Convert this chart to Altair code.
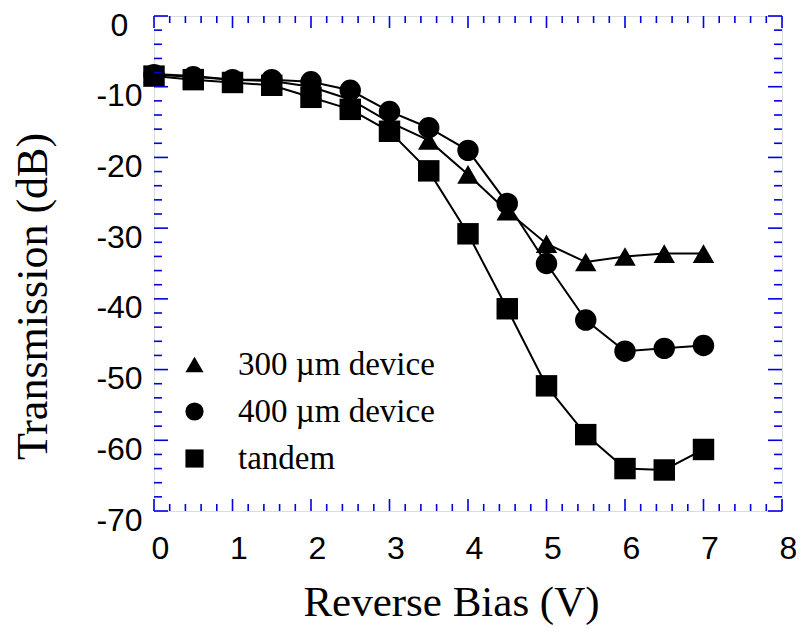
import altair as alt
import pandas as pd

# ---- data ----
bias = [0, 0.5, 1, 1.5, 2, 2.5, 3, 3.5, 4, 4.5, 5, 5.5, 6, 6.5, 7]
dev300 = [-8.2, -8.5, -9.0, -9.2, -10.0, -11.8, -15.0, -17.6, -22.4, -27.6, -32.2, -34.8, -34.0, -33.6, -33.6]
dev400 = [-8.3, -8.6, -9.0, -9.0, -9.3, -10.5, -13.5, -15.8, -19.0, -26.5, -35.0, -43.0, -47.4, -47.0, -46.6]
tandem = [-8.5, -9.0, -9.4, -9.8, -11.5, -13.2, -16.3, -21.9, -30.8, -41.4, -52.3, -59.2, -64.0, -64.2, -61.3]

series_names = ["300 \u00b5m device", "400 \u00b5m device", "tandem"]
series_shapes = ["triangle-up", "circle", "square"]

x_major = [0, 1, 2, 3, 4, 5, 6, 7, 8]
x_minor = [round(i * 0.2, 1) for i in range(41) if i % 5]
y_major = [0, -10, -20, -30, -40, -50, -60, -70]
y_minor = [-v for v in range(0, 71, 2) if v % 10]

W, H = 628, 495
BLUE = "#0000e0"

rows = []
for name, vals in zip(series_names, [dev300, dev400, tandem]):
    for b, v in zip(bias, vals):
        rows.append({"bias": b, "dB": v, "series": name})
df = pd.DataFrame(rows)

xs = alt.Scale(domain=[0, 8], nice=False, zero=False)
ys = alt.Scale(domain=[-70, 0], nice=False, zero=False)

x_axis = alt.Axis(
    values=x_major, labelExpr="datum.value + ''", title="Reverse Bias (V)", grid=False,
    ticks=False, tickSize=0, domain=False,
    labelFont="Liberation Sans", labelFontSize=32, labelColor="black",
    labelPadding=22, labelOffset=6, labelFlush=False,
    titleFont="Liberation Serif", titleFontSize=43, titleFontWeight="normal", titleColor="black",
    titleX=297, titleY=91, titleBaseline="middle", titleAlign="center",
)
y_axis = alt.Axis(
    values=y_major, labelExpr="datum.value + ''", title="Transmission (dB)", grid=False,
    ticks=False, tickSize=0, domain=False,
    labelFont="Liberation Sans", labelFontSize=32, labelColor="black",
    labelPadding=35, labelOffset=9, labelFlush=False, labelAlign="center",
    titleFont="Liberation Serif", titleFontSize=44, titleFontWeight="normal", titleColor="black",
    titleX=-121, titleY=280, titleBaseline="middle", titleAlign="center", titleAngle=-90,
)

lines = alt.Chart(df).mark_line(color="black", strokeWidth=2).encode(
    x=alt.X("bias:Q", scale=xs, axis=x_axis),
    y=alt.Y("dB:Q", scale=ys, axis=y_axis),
    detail="series:N",
)

points = alt.Chart(df).mark_point(filled=True, opacity=1, color="black", size=460).encode(
    x=alt.X("bias:Q"),
    y=alt.Y("dB:Q"),
    shape=alt.Shape(
        "series:N",
        scale=alt.Scale(domain=series_names, range=series_shapes),
        legend=alt.Legend(
            title=None, orient="none", legendX=24, legendY=332, symbolSize=330,
            symbolFillColor="black", symbolStrokeColor="black",
            labelFont="Liberation Serif", labelFontSize=33, labelColor="black",
            labelOffset=27, rowPadding=13, labelLimit=0,
        ),
    ),
)


def xticks(vals, length, top):
    d = pd.DataFrame({"bias": vals})
    if top:
        enc = dict(y=alt.value(0), y2=alt.value(length))
    else:
        enc = dict(y=alt.value(H), y2=alt.value(H - length))
    return alt.Chart(d).mark_rule(color=BLUE, strokeWidth=1.6).encode(
        x=alt.X("bias:Q"), **enc
    )


def yticks(vals, length, right):
    d = pd.DataFrame({"dB": vals})
    if right:
        enc = dict(x=alt.value(W), x2=alt.value(W - length))
    else:
        enc = dict(x=alt.value(0), x2=alt.value(length))
    return alt.Chart(d).mark_rule(color=BLUE, strokeWidth=1.6).encode(
        y=alt.Y("dB:Q"), **enc
    )


tick_layers = [
    xticks(x_major, 12, False), xticks(x_minor, 7, False),
    xticks(x_major, 12, True), xticks(x_minor, 7, True),
    yticks(y_major, 14, False), yticks(y_minor, 8, False),
    yticks(y_major, 14, True), yticks(y_minor, 8, True),
]

chart = alt.layer(lines, points, *tick_layers).properties(
    width=W, height=H,
    autosize=alt.AutoSizeParams(type="none"),
    padding={"left": 146, "top": 8, "right": 14, "bottom": 114},
).configure_view(stroke=BLUE, strokeWidth=2.2).configure(background="white")

chart.save("out.html", embed_options={"renderer": "svg", "actions": False})
